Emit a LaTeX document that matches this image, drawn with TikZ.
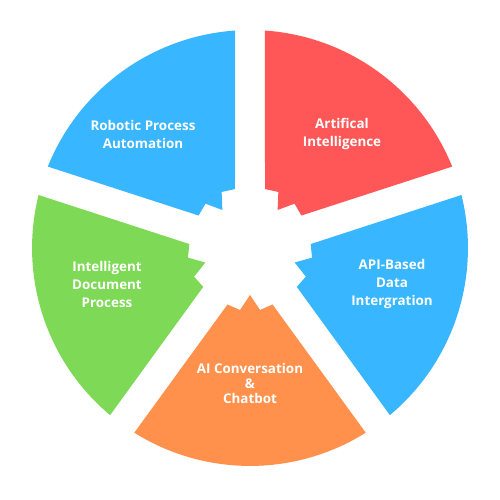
\documentclass[tikz,border=0pt]{standalone}
\usepackage{fontspec}
\newfontfamily\pop{Open Sans}
\definecolor{cred}{HTML}{FF5757}
\definecolor{cblue}{HTML}{38B6FF}
\definecolor{cgreen}{HTML}{7ED957}
\definecolor{corange}{HTML}{FF914D}
\tikzset{
  lbl/.style={text=white, align=center, font=\pop\bfseries\fontsize{13.4}{18}\selectfont},
  sector/.pic={
    \fill[pic actions] (56.5,-22.5) -- (184.7,-115.7)
      arc[start angle=-32.06, end angle=32.06, radius=218pt]
      -- (56.5,22.5) -- (62,10) -- (47,0) -- (62,-10) -- cycle;
  }
}
\begin{document}
\begin{tikzpicture}[x=1pt,y=1pt]
\useasboundingbox (0,0) rectangle (500,500);
\fill[white] (0,0) rectangle (500,500);
\pic[fill=cred] at (250,252) [rotate=54] {sector};
\pic[fill=cblue] at (250,252) [rotate=-18] {sector};
\pic[fill=corange] at (250,252) [rotate=-90] {sector};
\pic[fill=cgreen] at (250,252) [rotate=198] {sector};
\pic[fill=cblue] at (250,252) [rotate=126] {sector};
\node[lbl] (rpa) at (143,366) {Robotic Process\\Automation};
\node[lbl] (ai) at (342,366) {Artifical\\Intelligence};
\node[lbl] (api) at (392,216) {API-Based\\Data\\Intergration};
\node[lbl] (idp) at (107,216) {Intelligent\\Document\\Process};
\node[lbl, font=\pop\bfseries\fontsize{13.4}{15}\selectfont] (chat) at (250,117) {AI Conversation\\\&\\Chatbot};
\end{tikzpicture}
\end{document}
